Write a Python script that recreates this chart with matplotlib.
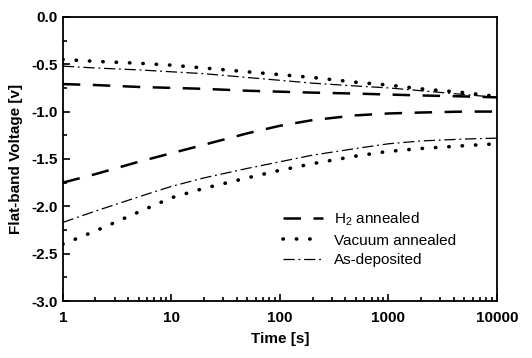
import matplotlib
matplotlib.use("Agg")
import matplotlib.pyplot as plt
from matplotlib.ticker import LogLocator, MultipleLocator, FixedLocator, FixedFormatter

plt.rcParams['font.family'] = ['Liberation Sans', 'DejaVu Sans']
plt.rcParams['font.weight'] = 'bold'

# time points [s]
t = [1, 2, 5, 10, 20, 50, 100, 200, 500, 1000, 2000, 5000, 10000]

# upper group of curves
h2_upper = [-0.71, -0.72, -0.74, -0.75, -0.76, -0.78, -0.79, -0.80, -0.81, -0.82, -0.83, -0.84, -0.85]
vac_upper = [-0.45, -0.47, -0.49, -0.51, -0.54, -0.58, -0.61, -0.64, -0.69, -0.72, -0.76, -0.80, -0.84]
asdep_upper = [-0.52, -0.54, -0.56, -0.58, -0.60, -0.64, -0.67, -0.70, -0.73, -0.75, -0.78, -0.82, -0.85]

# lower group of curves
h2_lower = [-1.75, -1.66, -1.53, -1.44, -1.35, -1.23, -1.15, -1.09, -1.04, -1.02, -1.01, -1.00, -1.00]
vac_lower = [-2.40, -2.26, -2.06, -1.91, -1.81, -1.70, -1.62, -1.55, -1.47, -1.42, -1.39, -1.36, -1.34]
asdep_lower = [-2.17, -2.05, -1.90, -1.79, -1.70, -1.60, -1.53, -1.46, -1.39, -1.34, -1.31, -1.29, -1.28]

xticks = [1, 10, 100, 1000, 10000]
xtick_labels = ['1', '10', '100', '1000', '10000']

fig = plt.figure(figsize=(5.32, 3.58), dpi=100)
ax = fig.add_axes([0.118, 0.159, 0.816, 0.794])

dash = (0, (7, 5))
dot = (0, (0.1, 3.6))
dashdot = (0, (9, 3, 1.5, 3))

ax.plot(t, h2_upper, color='black', lw=1.8, linestyle=dash, label=r'H$_\mathregular{2}$ annealed')
ax.plot(t, vac_upper, color='black', lw=2.6, linestyle=dot, dash_capstyle='round', label='Vacuum annealed')
ax.plot(t, asdep_upper, color='black', lw=0.9, linestyle=dashdot, label='As-deposited')

ax.plot(t, h2_lower, color='black', lw=1.8, linestyle=dash)
ax.plot(t, vac_lower, color='black', lw=2.6, linestyle=dot, dash_capstyle='round')
ax.plot(t, asdep_lower, color='black', lw=0.9, linestyle=dashdot)

ax.set_xscale('log')
ax.set_xlim(1, 10000)
ax.set_ylim(-3.0, 0.0)
ax.xaxis.set_major_locator(FixedLocator(xticks))
ax.xaxis.set_major_formatter(FixedFormatter(xtick_labels))
ax.xaxis.set_minor_locator(LogLocator(base=10, subs=range(2, 10)))
ax.yaxis.set_major_locator(MultipleLocator(0.5))
ax.yaxis.set_minor_locator(MultipleLocator(0.25))
ax.yaxis.set_major_formatter(plt.FuncFormatter(lambda v, p: '%.1f' % v))

ax.tick_params(which='both', direction='in', top=False, right=False, labelsize=11, width=1.2)
ax.tick_params(which='major', length=5)
ax.tick_params(which='minor', length=3)
ax.tick_params(axis='x', which='major', pad=7)
for s in ax.spines.values():
    s.set_linewidth(1.3)

ax.set_xlabel('Time [s]', fontsize=11, fontweight='bold', labelpad=5)
ax.set_ylabel('Flat-band Voltage [v]', fontsize=11, fontweight='bold', labelpad=6)

ax.legend(loc='upper left', bbox_to_anchor=(0.49, 0.345), frameon=False,
          prop={'size': 11, 'weight': 'normal'},
          handlelength=2.6, labelspacing=0.35, borderpad=0, handletextpad=0.7)

fig.savefig('out.png', dpi=100)
